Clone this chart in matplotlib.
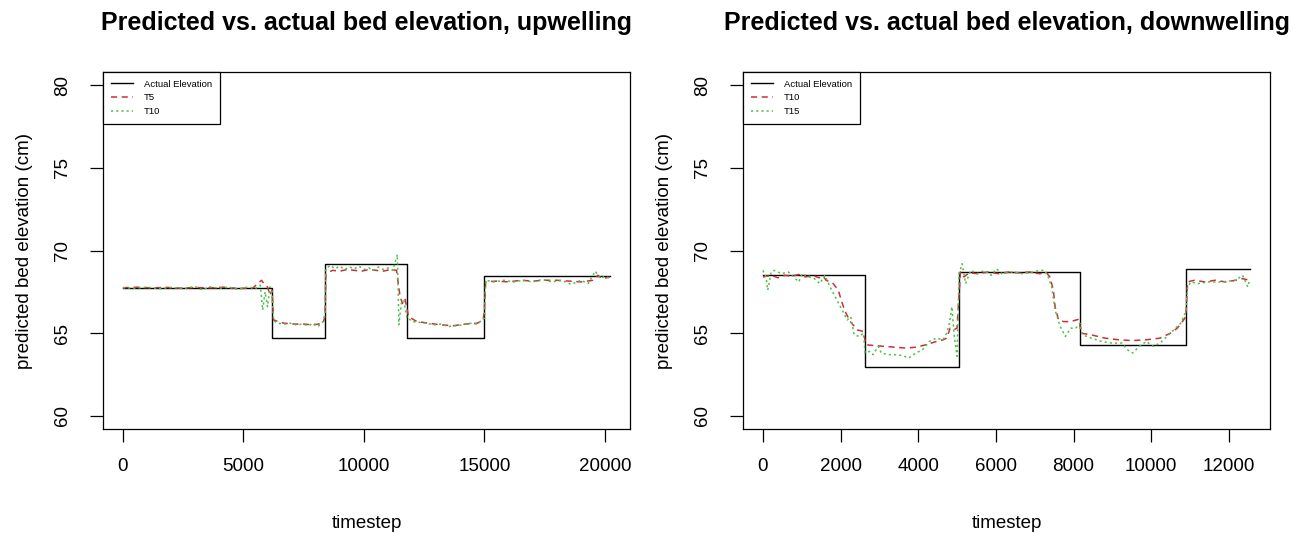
import matplotlib
matplotlib.use("Agg")
import matplotlib.pyplot as plt

plt.rcParams['font.family'] = ['Liberation Sans', 'DejaVu Sans']

# ---- upwelling (left) ----
up_actual_t = [0, 6186, 8386, 11786, 15000, 20214]
up_actual_v = [67.76, 64.68, 69.16, 64.68, 68.46]

up_t5_t = [0, 600, 1200, 1800, 2400, 3000, 3600, 4200, 4800, 5400, 5750, 5900,
           6000, 6100, 6186, 6250, 6450, 6700, 7100, 7500, 7900, 8300, 8386,
           8420, 8700, 9000, 9300, 9600, 9900, 10200, 10500, 10800, 11100,
           11350, 11500, 11600, 11700, 11786, 11850, 12200, 12700, 13200,
           13700, 14200, 14700, 14950, 15000, 15050, 15500, 16000, 16500,
           17000, 17500, 18000, 18500, 19000, 19500, 19700, 19900, 20200]
up_t5_v = [67.75, 67.78, 67.74, 67.77, 67.72, 67.76, 67.74, 67.78, 67.7, 67.74,
           68.2, 67.9, 67.8, 67.3, 67.6, 65.8, 65.7, 65.6, 65.55, 65.55, 65.5,
           65.6, 66.0, 68.6, 68.8, 68.75, 68.85, 68.8, 68.75, 68.85, 68.8,
           68.75, 68.85, 68.8, 67.2, 66.8, 67.1, 66.5, 66.0, 65.7, 65.6, 65.5,
           65.45, 65.55, 65.6, 65.8, 66.5, 68.1, 68.15, 68.1, 68.2, 68.15,
           68.2, 68.2, 68.15, 68.1, 68.2, 68.5, 68.3, 68.4]

up_t10_t = [0, 500, 1000, 1500, 2000, 2500, 3000, 3300, 3600, 4000, 4400, 4800,
            5200, 5500, 5700, 5800, 5900, 6000, 6100, 6186, 6250, 6450, 6700,
            6950, 7200, 7450, 7700, 7900, 8100, 8300, 8386, 8420, 8600, 8800,
            9000, 9200, 9400, 9600, 9800, 10000, 10200, 10400, 10600, 10800,
            11000, 11200, 11386, 11450, 11550, 11650, 11786, 11850, 12000,
            12300, 12600, 12900, 13200, 13500, 13800, 14100, 14400, 14700,
            14900, 15000, 15050, 15400, 15800, 16200, 16600, 17000, 17400,
            17800, 18200, 18600, 19000, 19300, 19600, 19800, 20000, 20200]
up_t10_v = [67.75, 67.72, 67.78, 67.7, 67.76, 67.7, 67.82, 67.62, 67.8, 67.72,
            67.78, 67.65, 67.8, 67.7, 67.9, 66.4, 67.5, 66.6, 67.8, 67.5,
            65.75, 65.6, 65.55, 65.6, 65.5, 65.55, 65.45, 65.6, 65.4, 65.7,
            66.2, 68.9, 69.1, 68.9, 69.05, 68.85, 69.0, 68.9, 69.05, 68.85,
            68.95, 68.8, 69.0, 68.85, 68.95, 68.8, 69.76, 65.5, 66.8, 67.0,
            65.9, 65.9, 65.7, 65.65, 65.6, 65.5, 65.55, 65.4, 65.45, 65.5,
            65.6, 65.55, 65.8, 65.9, 68.2, 68.1, 68.2, 68.1, 68.2, 68.1, 68.25,
            68.1, 68.2, 67.95, 68.2, 68.0, 68.75, 68.3, 68.45, 68.3]

# ---- downwelling (right) ----
down_actual_t = [0, 2623, 5051, 8161, 10891, 12548]
down_actual_v = [68.5, 62.96, 68.7, 64.3, 68.86]

down_t10_t = [0, 213, 390, 567, 744, 922, 1099, 1276, 1453, 1542, 1630, 1808,
              1941, 2029, 2118, 2251, 2428, 2587, 2650, 2871, 3137, 3403, 3668,
              3934, 4200, 4466, 4643, 4732, 4820, 4909, 4998, 5086, 5175, 5308,
              5529, 5795, 6061, 6327, 6593, 6859, 7124, 7302, 7390, 7479, 7523,
              7612, 7745, 7922, 8143, 8188, 8453, 8808, 9162, 9517, 9871, 10226,
              10492, 10669, 10802, 10891, 10935, 11112, 11378, 11643, 11909,
              12175, 12352, 12529]
down_t10_v = [68.4, 68.5, 68.35, 68.5, 68.45, 68.55, 68.4, 68.5, 68.35, 68.45,
              68.2, 68.0, 67.6, 66.9, 66.3, 65.7, 65.2, 65.1, 64.3, 64.25, 64.2,
              64.15, 64.1, 64.15, 64.3, 64.5, 64.6, 64.7, 65.3, 65.2, 65.3, 68.7,
              68.4, 68.65, 68.6, 68.7, 68.6, 68.7, 68.65, 68.7, 68.6, 68.65,
              68.4, 67.6, 66.6, 65.8, 65.7, 65.7, 65.85, 65.0, 64.9, 64.7, 64.6,
              64.55, 64.6, 64.7, 65.0, 65.3, 65.7, 66.0, 68.1, 68.2, 68.1, 68.2,
              68.1, 68.2, 68.3, 68.2]

down_t15_t = [0, 80, 124, 213, 301, 478, 656, 833, 922, 1010, 1187, 1329, 1462,
              1595, 1728, 1861, 1994, 2083, 2171, 2260, 2349, 2481, 2587, 2632,
              2747, 2836, 2969, 3049, 3226, 3403, 3580, 3757, 3934, 4111, 4289,
              4466, 4643, 4732, 4803, 4865, 4927, 4998, 5051, 5130, 5219, 5352,
              5529, 5706, 5883, 6016, 6149, 6415, 6681, 6947, 7124, 7257, 7346,
              7435, 7523, 7656, 7789, 7922, 8055, 8161, 8232, 8453, 8719, 8985,
              9251, 9384, 9517, 9694, 9871, 10048, 10226, 10403, 10580, 10757,
              10891, 10935, 11024, 11201, 11467, 11821, 12175, 12352, 12485,
              12529]
down_t15_v = [68.8, 68.4, 67.6, 68.7, 68.8, 68.6, 68.7, 68.3, 68.1, 68.6, 68.4,
              68.3, 68.0, 68.5, 67.8, 67.2, 66.6, 66.2, 65.8, 66.0, 64.9, 64.8,
              65.0, 63.8, 63.9, 63.7, 64.2, 63.8, 63.7, 63.7, 63.65, 63.5, 63.8,
              64.0, 64.5, 64.7, 64.6, 65.0, 65.6, 66.6, 64.8, 63.6, 68.6, 69.2,
              68.0, 68.8, 68.6, 68.8, 68.5, 68.9, 68.6, 68.7, 68.6, 68.7, 68.8,
              68.8, 68.4, 67.8, 66.4, 65.4, 64.8, 65.3, 65.3, 65.6, 64.9, 64.7,
              64.5, 64.4, 64.4, 64.0, 63.8, 64.2, 64.5, 64.2, 64.4, 64.8, 65.2,
              65.6, 66.3, 67.8, 68.1, 68.0, 68.1, 68.1, 68.2, 68.5, 67.8, 68.2]

RED = '#C8303A'
GREEN = '#4DC04A'

fig = plt.figure(figsize=(13.02, 5.33), dpi=100)
ax1 = fig.add_axes([0.0794, 0.195, 0.4042, 0.670])
ax2 = fig.add_axes([0.5710, 0.195, 0.4042, 0.670])


def draw(ax, at, av, p1t, p1v, p2t, p2v, names, title, xticks):
    ax.step(at, av + [av[-1]], where='post', color='black', lw=1.0)
    ax.plot(p1t, p1v, color=RED, lw=1.1, dashes=(4, 3))
    ax.plot(p2t, p2v, color=GREEN, lw=1.1, dashes=(1.4, 2))
    r = at[-1] - at[0]
    ax.set_xlim(at[0] - 0.04 * r, at[-1] + 0.04 * r)
    ax.set_ylim(59.2, 80.8)
    ax.set_xticks(xticks)
    ax.set_yticks([60, 65, 70, 75, 80])
    ax.tick_params(axis='both', length=9.5, width=0.9, labelsize=13.5,
                   direction='out')
    ax.tick_params(axis='x', pad=11)
    ax.tick_params(axis='y', pad=14)
    for lab in ax.get_yticklabels():
        lab.set_rotation(90)
        lab.set_va('center')
    for s in ax.spines.values():
        s.set_linewidth(0.9)
    ax.set_xlabel('timestep', fontsize=13.5, labelpad=29)
    ax.set_ylabel('predicted bed elevation (cm)', fontsize=13.5, labelpad=15)
    ax.set_title(title, fontsize=18, fontweight='bold', pad=30)
    leg = ax.legend(names, loc='upper left', bbox_to_anchor=(0, 1),
                    borderaxespad=0, fontsize=6.8, fancybox=False,
                    handlelength=2.3, handletextpad=1.2, labelspacing=0.5,
                    borderpad=0.8, framealpha=1)
    leg.get_frame().set_edgecolor('black')
    leg.get_frame().set_linewidth(0.9)


draw(ax1, up_actual_t, up_actual_v, up_t5_t, up_t5_v, up_t10_t, up_t10_v,
     ['Actual Elevation', 'T5', 'T10'],
     'Predicted vs. actual bed elevation, upwelling',
     [0, 5000, 10000, 15000, 20000])
draw(ax2, down_actual_t, down_actual_v, down_t10_t, down_t10_v, down_t15_t,
     down_t15_v, ['Actual Elevation', 'T10', 'T15'],
     'Predicted vs. actual bed elevation, downwelling',
     [0, 2000, 4000, 6000, 8000, 10000, 12000])

fig.savefig('out.png', dpi=100)
